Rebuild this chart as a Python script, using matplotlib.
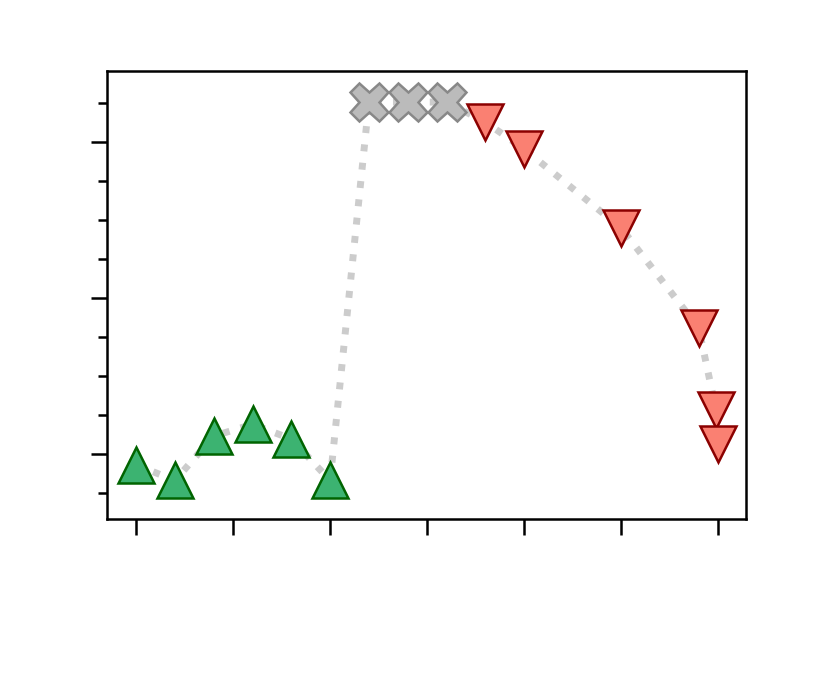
import matplotlib
matplotlib.use("Agg")
import matplotlib.pyplot as plt
from matplotlib.ticker import MultipleLocator, NullFormatter

# data
x_up = [0.0, 0.4, 0.8, 1.2, 1.6, 2.0]
y_up = [-0.07, -0.17, 0.115, 0.19, 0.096, -0.17]

x_mid = [2.4, 2.8, 3.2]
y_mid = [2.256, 2.256, 2.256]

x_down = [3.6, 4.0, 5.0, 5.8, 5.98, 6.0]
y_down = [2.128, 1.955, 1.449, 0.808, 0.282, 0.064]

x_all = x_up + x_mid + x_down
y_all = y_up + y_mid + y_down

fig = plt.figure(figsize=(8.3, 6.86), dpi=100)
ax = fig.add_axes([0.129, 0.2434, 0.77, 0.6531])

# connecting dotted line
ax.plot(x_all, y_all, linestyle=':', color='#cccccc', linewidth=5, zorder=1)

ax.plot(x_up, y_up, linestyle='none', marker='^', markersize=26,
        markerfacecolor='mediumseagreen', markeredgecolor='darkgreen',
        markeredgewidth=1.8, zorder=2)
ax.plot(x_mid, y_mid, linestyle='none', marker='X', markersize=28,
        markerfacecolor='#bbbbbb', markeredgecolor='#888888',
        markeredgewidth=1.8, zorder=2)
ax.plot(x_down, y_down, linestyle='none', marker='v', markersize=26,
        markerfacecolor='salmon', markeredgecolor='darkred',
        markeredgewidth=1.8, zorder=2)

ax.set_xlim(-0.3, 6.29)
ax.set_ylim(-0.417, 2.455)

ax.xaxis.set_major_locator(MultipleLocator(1))
ax.yaxis.set_major_locator(MultipleLocator(1))
ax.yaxis.set_minor_locator(MultipleLocator(0.25))
ax.xaxis.set_major_formatter(NullFormatter())
ax.yaxis.set_major_formatter(NullFormatter())

ax.tick_params(which='major', length=11.5, width=1.8)
ax.tick_params(which='minor', length=6.5, width=1.8)
for s in ax.spines.values():
    s.set_linewidth(1.8)

fig.savefig('out.png', dpi=100)
plt.close(fig)
